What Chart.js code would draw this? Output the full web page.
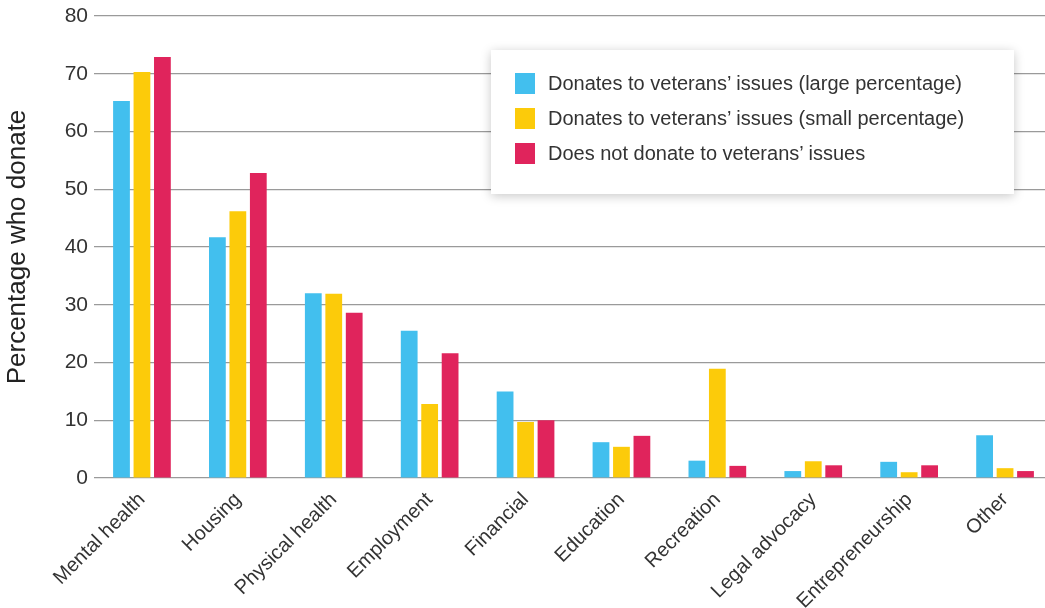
<!DOCTYPE html>
<html>
<head>
<meta charset="utf-8">
<script src="https://cdn.jsdelivr.net/npm/chart.js@4/dist/chart.umd.min.js"></script>
<style>
  html, body { margin: 0; padding: 0; background: #fff; overflow: hidden; }
  #wrap { position: relative; width: 1045px; height: 608px; overflow: hidden; }
  #legend {
    position: absolute; left: 491px; top: 50px; width: 523px; height: 144px;
    background: #fff; box-shadow: 0 2px 10px rgba(0,0,0,0.22);
    font-family: "Liberation Sans", Arial, sans-serif; font-size: 20px; color: #333;
    box-sizing: border-box; padding-top: 16px; padding-left: 24px;
  }
  .row { display: flex; align-items: center; height: 35px; }
  .sw { width: 20px; height: 21px; margin-right: 13px; }
</style>
</head>
<body>
<div id="wrap">
  <canvas id="chart" width="1053" height="608"></canvas>
  <div id="legend"></div>
</div>
<script>
// categories and values
const categories = ["Mental health", "Housing", "Physical health", "Employment", "Financial",
  "Education", "Recreation", "Legal advocacy", "Entrepreneurship", "Other"];
const seriesNames = [
  "Donates to veterans\u2019 issues (large percentage)",
  "Donates to veterans\u2019 issues (small percentage)",
  "Does not donate to veterans\u2019 issues"
];
const largePct = [65.3, 41.7, 32.0, 25.5, 15.0, 6.2, 3.0, 1.2, 2.8, 7.4];
const smallPct = [70.3, 46.2, 31.9, 12.8, 9.7, 5.4, 18.9, 2.9, 1.0, 1.7];
const noDonate = [72.9, 52.8, 28.6, 21.6, 10.0, 7.3, 2.1, 2.2, 2.2, 1.2];
const yTicks = [0, 10, 20, 30, 40, 50, 60, 70, 80];
const colors = ["#42BFEE", "#FCCB0A", "#E0245C"];

const font = "'Liberation Sans', Arial, sans-serif";
const values = [largePct, smallPct, noDonate];

// html legend
const legend = document.getElementById("legend");
seriesNames.forEach((name, i) => {
  const row = document.createElement("div");
  row.className = "row";
  row.innerHTML = `<div class="sw" style="background:${colors[i]}"></div><span>${name}</span>`;
  legend.appendChild(row);
});

new Chart(document.getElementById("chart"), {
  type: "bar",
  data: {
    labels: categories,
    datasets: seriesNames.map((name, i) => ({
      label: name,
      data: values[i],
      backgroundColor: colors[i],
      categoryPercentage: 0.64,
      barPercentage: 0.82,
    })),
  },
  options: {
    responsive: false,
    animation: false,
    layout: { padding: { top: 16, right: 0, left: 0, bottom: 0 } },
    plugins: { legend: { display: false }, tooltip: { enabled: false } },
    scales: {
      x: {
        grid: { display: false },
        border: { display: false },
        ticks: {
          color: "#333",
          font: { family: font, size: 20 },
          minRotation: 45,
          maxRotation: 45,
          padding: 2,
        },
        afterFit: (s) => { s.height = 130; },
      },
      y: {
        min: 0,
        max: 80,
        afterBuildTicks: (s) => { s.ticks = yTicks.map((v) => ({ value: v })); },
        grid: { color: "#9a9a9a", lineWidth: 1.2, drawTicks: false },
        border: { display: false },
        ticks: {
          color: "#333",
          font: { family: font, size: 21 },
          padding: 6,
        },
        title: {
          display: true,
          text: "Percentage who donate",
          color: "#222",
          font: { family: font, size: 26 },
          padding: { top: 2, bottom: 0 },
        },
        afterFit: (s) => {
          s.width = 94;
          s.paddingTop = 0;
          s.paddingBottom = 0;
        },
      },
    },
  },
});
</script>
</body>
</html>
